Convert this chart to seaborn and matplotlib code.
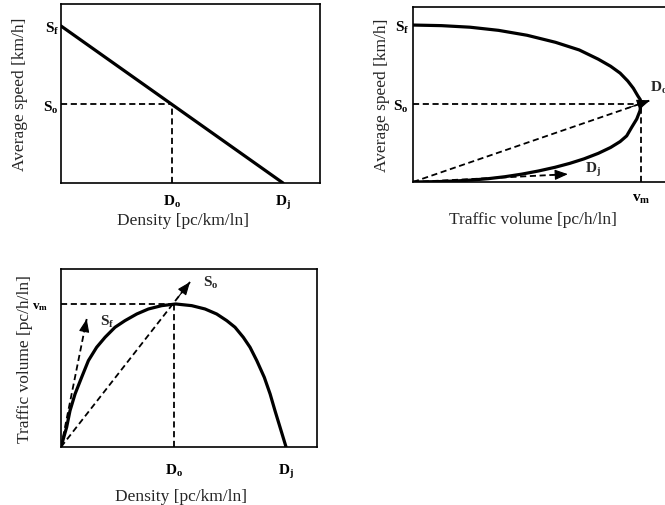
import matplotlib
matplotlib.use("Agg")
import matplotlib.pyplot as plt
import seaborn as sns

# ---------------- data ----------------
free_speed = 80          # S_f
optimal_speed = 40       # S_o
jam_density = 120        # D_j
optimal_density = 60     # D_o
max_volume = 2400        # v_m

# Panel 1: speed vs density
p1_density = [0, 120]
p1_speed = [80, 0]

# Panel 2: speed vs volume (path along the curve, top branch then bottom branch)
p2_volume = [0, 300, 600, 900, 1200, 1500, 1750, 1950, 2080, 2180, 2260, 2319,
             2365, 2392, 2400,
             2389, 2355, 2302, 2249, 2180, 2080, 1950, 1800, 1650, 1495, 1319,
             1144, 968, 793, 618, 442, 266, 0]
p2_speed = [80, 79.7, 78.9, 77.3, 74.8, 71.2, 67.3, 62.6, 59.0, 55.5, 51.5, 47.8,
            44.0, 42.0, 39.7,
            36.3, 32.1, 27.9, 23.5, 20.6, 17.6, 14.6, 11.8, 9.5, 7.5, 5.6,
            4.0, 2.7, 1.7, 1.0, 0.5, 0.2, 0]
p2_arrow_do = [2495, 41.6]
p2_arrow_dj = [1630, 4.0]

# Panel 3: volume vs density
p3_density = [0, 3.0, 4.8, 7.5, 11.0, 14.6, 19.0, 23.5, 28.8, 34.1, 40.4, 46.6,
              53.7, 61.2, 69.7, 76.8, 83.0, 88.4, 92.8, 97.2, 100.8, 104.4,
              108.4, 111.5, 114.1, 116.8, 120]
p3_volume = [0, 331, 609, 890, 1169, 1449, 1673, 1841, 2009, 2120, 2232, 2316,
             2372, 2400, 2372, 2316, 2232, 2120, 2009, 1841, 1673, 1449,
             1169, 890, 609, 331, 0]
p3_arrow_sf = [13.7, 2148]
p3_arrow_so = [68.8, 2769]

xlabels = ["Density [pc/km/ln]", "Traffic volume [pc/h/ln]", "Density [pc/km/ln]"]
ylabels = ["Average speed [km/h]", "Average speed [km/h]", "Traffic volume [pc/h/ln]"]

# ---------------- style ----------------
sns.set_style("white")
plt.rcParams["font.family"] = ["Liberation Serif", "DejaVu Serif"]
plt.rcParams["mathtext.fontset"] = "custom"
plt.rcParams["mathtext.rm"] = "Liberation Serif"
plt.rcParams["mathtext.it"] = "Liberation Serif:italic"
plt.rcParams["mathtext.bf"] = "Liberation Serif:bold"

SOLID_LW = 2.3
DASH_LW = 1.3
DASH = (0, (3.4, 2.0))
LAB_FS = 12.5
TICK_FS = 11

fig = plt.figure(figsize=(6.65, 5.06), dpi=100)
W, H = 665, 506
ax1 = fig.add_axes([61 / W, 1 - 184 / H, 259 / W, 179 / H])
ax2 = fig.add_axes([413 / W, 1 - 183 / H, 255 / W, 175 / H])
ax3 = fig.add_axes([61 / W, 1 - 448 / H, 256 / W, 178 / H])


def lab(s, sub):
    return r"$\mathbf{%s}_\mathbf{%s}$" % (s, sub)


def dashed(ax, xs, ys):
    sns.lineplot(x=xs, y=ys, ax=ax, color="black", lw=DASH_LW,
                 linestyle=DASH, sort=False, estimator=None)


def arrow(ax, start, end):
    dashed(ax, [start[0], end[0]], [start[1], end[1]])
    ax.annotate("", xy=end, xytext=(start[0] + (end[0] - start[0]) * 0.9,
                                    start[1] + (end[1] - start[1]) * 0.9),
                arrowprops=dict(arrowstyle="-|>,head_length=0.8,head_width=0.32",
                                color="black", lw=0.8, shrinkA=0, shrinkB=0))


def style(ax, xlim, ylim, xpad, ypad):
    ax.set_xlim(*xlim)
    ax.set_ylim(*ylim)
    for s in ax.spines.values():
        s.set_color("black")
        s.set_linewidth(1.2)
    ax.tick_params(axis="both", length=0, labelsize=TICK_FS, colors="black")
    ax.tick_params(axis="x", pad=xpad)
    ax.tick_params(axis="y", pad=ypad)


# ---------- Panel 1 ----------
sns.lineplot(x=p1_density, y=p1_speed, ax=ax1, color="black", lw=SOLID_LW,
             sort=False, estimator=None)
dashed(ax1, [0, optimal_density], [optimal_speed, optimal_speed])
dashed(ax1, [optimal_density, optimal_density], [0, optimal_speed])
style(ax1, (0, 140), (0, 91.2), 7, 1.5)
ax1.set_xticks([optimal_density, jam_density], [lab("D", "o"), lab("D", "j")])
ax1.set_yticks([optimal_speed, free_speed], [lab("S", "o"), lab("S", "f")])

# ---------- Panel 2 ----------
sns.lineplot(x=p2_volume, y=p2_speed, ax=ax2, color="black", lw=SOLID_LW,
             sort=False, estimator=None)
dashed(ax2, [0, max_volume], [optimal_speed, optimal_speed])
dashed(ax2, [max_volume, max_volume], [0, optimal_speed])
arrow(ax2, (0, 0), tuple(p2_arrow_do))
arrow(ax2, (0, 0), tuple(p2_arrow_dj))
style(ax2, (0, 2684), (0, 89.2), 7, 3)
ax2.spines["right"].set_visible(False)
ax2.set_xticks([max_volume], [lab("v", "m")])
ax2.set_yticks([optimal_speed, free_speed], [lab("S", "o"), lab("S", "f")])
ax2.text(2495, 48.5, lab("D", "o"), fontsize=TICK_FS, ha="left", va="center")
ax2.text(1811, 6.8, lab("D", "j"), fontsize=TICK_FS, ha="left", va="center")

# ---------- Panel 3 ----------
sns.lineplot(x=p3_density, y=p3_volume, ax=ax3, color="black", lw=SOLID_LW,
             sort=False, estimator=None)
dashed(ax3, [0, optimal_density], [max_volume, max_volume])
dashed(ax3, [optimal_density, optimal_density], [0, max_volume])
arrow(ax3, (0, 0), tuple(p3_arrow_sf))
arrow(ax3, (0, 0), tuple(p3_arrow_so))
style(ax3, (0, 136.5), (0, 2987), 11, 9)
ax3.set_xticks([optimal_density, jam_density], [lab("D", "o"), lab("D", "j")])
ax3.set_yticks([max_volume], [lab("v", "m")])
for t in ax3.get_yticklabels():
    t.set_fontsize(9.5)
ax3.text(75.7, 2769, lab("S", "o"), fontsize=TICK_FS, ha="left", va="center")
ax3.text(20.8, 2115, lab("S", "f"), fontsize=TICK_FS, ha="left", va="center")

# ---------- axis labels ----------
for ax, xl, yl, xc, yc in [
    (ax1, xlabels[0], ylabels[0], (0.47, -29 / 179), (-0.128, 0.5)),
    (ax2, xlabels[1], ylabels[1], (0.47, -29 / 175), (-0.092, 0.5)),
    (ax3, xlabels[2], ylabels[2], (0.47, -41 / 178), (-0.109, 0.5)),
]:
    ax.set_xlabel(xl, fontsize=LAB_FS)
    ax.set_ylabel(yl, fontsize=LAB_FS)
    ax.xaxis.set_label_coords(*xc)
    ax.yaxis.set_label_coords(*yc)

fig.savefig("out.png", dpi=100)
